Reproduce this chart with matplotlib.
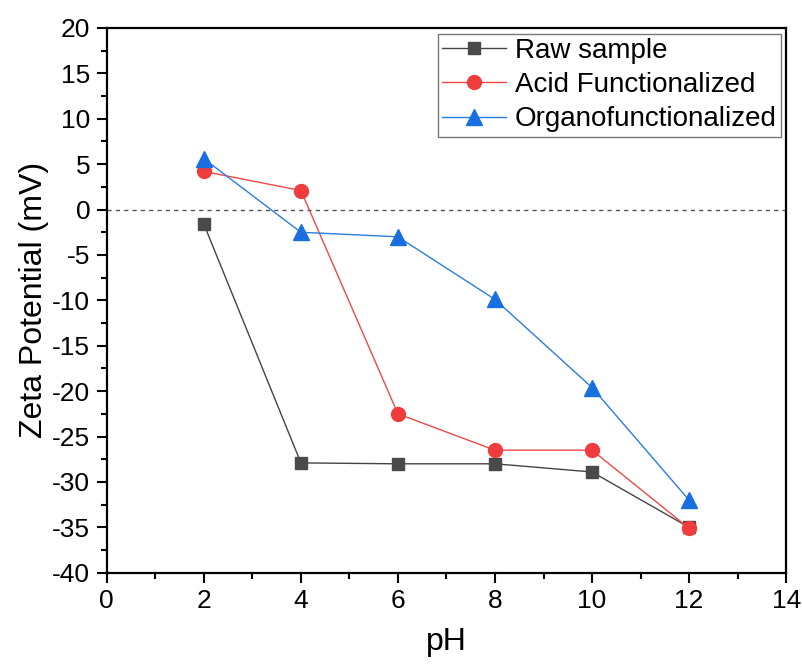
import matplotlib
matplotlib.use("Agg")
import matplotlib.pyplot as plt
from matplotlib.ticker import MultipleLocator

plt.rcParams['font.family'] = ['Liberation Sans', 'DejaVu Sans']
plt.rcParams['axes.unicode_minus'] = False

ph = [2, 4, 6, 8, 10, 12]
raw = [-1.6, -27.9, -28.0, -28.0, -28.9, -35.0]
acid = [4.2, 2.1, -22.5, -26.5, -26.5, -35.1]
organo = [5.6, -2.5, -3.0, -9.9, -19.6, -32.0]

fig = plt.figure(figsize=(8.03, 6.66), dpi=100)
ax = fig.add_axes([0.133, 0.14, 0.846, 0.818])

ax.axhline(0, color='#555555', linestyle=(0, (3, 3)), linewidth=1.0, zorder=1)

ax.plot(ph, raw, color='#444444', linewidth=1.0, marker='s', markersize=8.5,
        markerfacecolor='#4a4a4a', markeredgecolor='#4a4a4a', label='Raw sample', zorder=3)
ax.plot(ph, acid, color='#f04848', linewidth=1.0, marker='o', markersize=10,
        markerfacecolor='#f03c3c', markeredgecolor='#f03c3c', label='Acid Functionalized', zorder=3)
ax.plot(ph, organo, color='#2a7de0', linewidth=1.0, marker='^', markersize=11,
        markerfacecolor='#1a6fe0', markeredgecolor='#1a6fe0', label='Organofunctionalized', zorder=3)

ax.set_xlim(0, 14)
ax.set_ylim(-40, 20)
ax.xaxis.set_major_locator(MultipleLocator(2))
ax.xaxis.set_minor_locator(MultipleLocator(1))
ax.yaxis.set_major_locator(MultipleLocator(5))
ax.yaxis.set_minor_locator(MultipleLocator(2.5))
ax.tick_params(which='major', direction='out', length=7, width=1.5, labelsize=19, pad=5)
ax.tick_params(which='minor', direction='out', length=4, width=1.5)
for s in ax.spines.values():
    s.set_linewidth(1.6)

ax.set_xlabel('pH', fontsize=23, labelpad=10)
ax.set_ylabel('Zeta Potential (mV)', fontsize=23, labelpad=2)

leg = ax.legend(loc='upper right', fontsize=20, frameon=True, fancybox=False,
                edgecolor='#555555', handlelength=2.3, handletextpad=0.3,
                borderpad=0.15, labelspacing=0.3, borderaxespad=0.2)
leg.get_frame().set_linewidth(1.0)

fig.savefig('out.png', dpi=100)
